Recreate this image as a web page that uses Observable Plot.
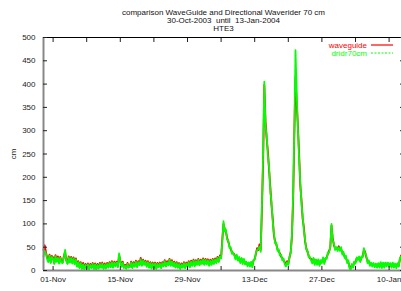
<!DOCTYPE html>
<html><head><meta charset="utf-8">
<script src="https://cdn.jsdelivr.net/npm/d3@7"></script>
<script src="https://cdn.jsdelivr.net/npm/@observablehq/plot@0.6"></script>
<style>html,body{margin:0;padding:0;background:#fff;overflow:hidden}svg{display:block}</style>
</head><body><div id="chart"></div>
<script>
const titleLines = ["comparison WaveGuide and Directional Waverider 70 cm", "30-Oct-2003  until  13-Jan-2004", "HTE3"];
const seriesNames = ["waveguide", "dridr70cm"];
const startDate = "2003-10-30T00:00Z";
const endDate = "2004-01-13T00:00Z";
const stepHours = 6;
// dridr70cm (green), 6-hourly from 30-Oct-2003 00:00
const dridr = [
30,42,36,24, 18,32,16,29, 26,14,31,18, 28,15,27,17, 16,29,44,20, 14,28,17,27, 15,26,13,24,
8,18,5,16, 3,14,2,12, 4,13,2,12, 5,14,3,13, 2,12,4,14, 5,15,3,13, 4,14,6,16,
7,18,6,17, 9,17,7,37, 19,8,17,5, 10,3,14,6, 7,17,5,16, 8,19,7,18, 11,24,10,21,
12,19,8,18, 6,16,4,15, 5,15,3,14, 7,15,5,16, 9,20,8,18, 11,23,10,20, 9,17,6,16,
5,14,3,13, 6,16,5,15, 8,18,7,19, 10,21,9,20, 12,23,11,21, 14,24,12,23, 13,22,10,21,
12,23,14,24, 16,27,18,30, 26,62,106,84, 88,66,64,48, 50,36,39,32, 24,34,20,29, 16,27,14,25,
13,19,9,18, 8,19,7,23, 22,38,44,46, 52,40,140,250, 405,310,290,245, 222,170,148,106, 80,58,60,42,
46,32,34,22, 26,14,8,18, 12,30,36,76, 160,300,473,380, 305,240,188,144, 116,86,66,44, 44,28,29,22,
15,27,12,24, 12,24,10,22, 16,28,14,27, 25,39,38,52, 100,66,58,44, 50,42,50,42, 50,34,40,26,
32,16,22,4, 2,14,6,20, 15,28,22,30, 18,30,28,48, 36,32,16,22, 10,17,8,16, 7,15,6,16,
6,18,5,17, 6,18,9,17, 8,16,6,17, 6,15,5,16, 8,26,30,18, 22
];
// waveguide (red), 6-hourly from 30-Oct-2003 00:00
const waveguide = [
44,54,40,28, 22,34,18,31, 28,16,33,20, 30,17,29,19, 18,31,40,22, 16,30,19,29, 17,28,15,26,
10,20,7,18, 5,16,4,14, 6,15,4,14, 7,16,5,15, 4,14,6,16, 7,17,5,15, 6,16,8,18,
9,20,8,19, 11,19,9,33, 21,10,19,7, 12,5,16,8, 9,19,7,18, 10,21,9,20, 13,27,12,23,
14,21,10,20, 8,18,6,17, 7,17,5,16, 9,17,7,18, 11,22,10,20, 13,25,12,22, 11,19,8,18,
7,16,5,15, 8,18,7,17, 10,20,9,21, 12,23,11,22, 14,25,13,23, 16,26,14,25, 15,24,12,23,
14,25,16,26, 18,29,20,32, 28,66,100,90, 84,70,62,52, 46,40,36,35, 27,31,23,27, 19,25,17,23,
15,17,12,16, 11,17,10,21, 25,36,48,44, 56,44,130,232, 398,320,282,255, 215,180,140,112, 76,62,56,46,
42,36,30,26, 22,18,11,20, 15,28,40,72, 150,290,415,360, 310,250,182,150, 110,92,62,48, 40,32,26,25,
18,25,15,22, 15,22,13,20, 19,26,17,25, 28,36,42,50, 96,70,54,48, 46,46,52,44, 46,38,36,30,
28,20,18,8, 5,12,9,18, 18,26,25,28, 21,28,31,44, 40,29,20,20, 13,15,11,14, 10,13,9,14,
9,16,8,15, 9,16,12,15, 11,14,9,15, 9,13,8,14, 10,24,32,20, 24
];
const yTicks = [0,50,100,150,200,250,300,350,400,450,500];
const xTickDates = ["2003-11-01","2003-11-08","2003-11-15","2003-11-22","2003-11-29","2003-12-06","2003-12-13","2003-12-20","2003-12-27","2004-01-03","2004-01-10"];
const xTickLabels = {"2003-11-01":"01-Nov","2003-11-15":"15-Nov","2003-11-29":"29-Nov","2003-12-13":"13-Dec","2003-12-27":"27-Dec","2004-01-10":"10-Jan"};
const yLabel = "cm";
const colors = ["#ff0000", "#00ff00"];

const t0 = new Date(startDate).getTime();
const toRows = (arr, name) => arr.map((v, i) => ({t: new Date(t0 + i * stepHours * 3600e3), v, name}));
const redRows = toRows(waveguide, seriesNames[0]);
const greenRows = toRows(dridr, seriesNames[1]);
const ticks = xTickDates.map(s => new Date(s + "T00:00Z"));
const fmt = d3.utcFormat("%Y-%m-%d");
const font = "Liberation Sans, Arial, sans-serif";

const chart = Plot.plot({
  width: 401, height: 291,
  marginLeft: 43, marginRight: -2, marginTop: 37, marginBottom: 21,
  style: {fontFamily: font, fontSize: "8px", color: "#222", background: "#fff"},
  x: {type: "utc", domain: [new Date(startDate), new Date(endDate)]},
  y: {domain: [0, 500]},
  marks: [
    Plot.frame({stroke: "#000", strokeWidth: 1}),
    Plot.line(redRows, {x: "t", y: "v", stroke: colors[0], strokeWidth: 1.9}),
    Plot.line(greenRows, {x: "t", y: "v", stroke: colors[1], strokeWidth: 1.8, strokeDasharray: "4,1"}),
    Plot.ruleY([0], {stroke: "#888", strokeWidth: 2}),
    Plot.ruleX([new Date(startDate)], {stroke: "#888", strokeWidth: 2}),
    Plot.axisY({anchor: "left", ticks: yTicks, tickSize: -4, tickPadding: 12, label: yLabel, labelArrow: false, labelAnchor: "center", labelOffset: 33, fontSize: 8}),
    Plot.axisY({anchor: "right", ticks: yTicks, tickSize: -4, tickFormat: () => "", label: null}),
    Plot.axisX({anchor: "bottom", ticks, tickSize: -4, tickPadding: 10, tickFormat: d => xTickLabels[fmt(d)] || "", label: null, fontSize: 8}),
    Plot.axisX({anchor: "top", ticks, tickSize: -4, tickFormat: () => "", label: null}),
    ...titleLines.map((s, i) => Plot.text([s], {text: d => d, frameAnchor: "top", dy: -28 + i * 8, fontSize: 8, fill: "#111"}))
  ]
});

// legend
const svg = d3.select(chart);
const lg = svg.append("g").attr("font-family", font).attr("font-size", 8);
seriesNames.forEach((n, i) => {
  const y = 45 + i * 8;
  lg.append("text").attr("x", 367).attr("y", y).attr("dy", "0.32em").attr("text-anchor", "end").attr("fill", colors[i]).text(n);
  lg.append("line").attr("x1", 371).attr("x2", 393).attr("y1", y).attr("y2", y).attr("stroke", colors[i]).attr("stroke-width", 1.2).attr("stroke-dasharray", i ? "2,1.5" : null);
});
document.getElementById("chart").appendChild(chart);
</script></body></html>
